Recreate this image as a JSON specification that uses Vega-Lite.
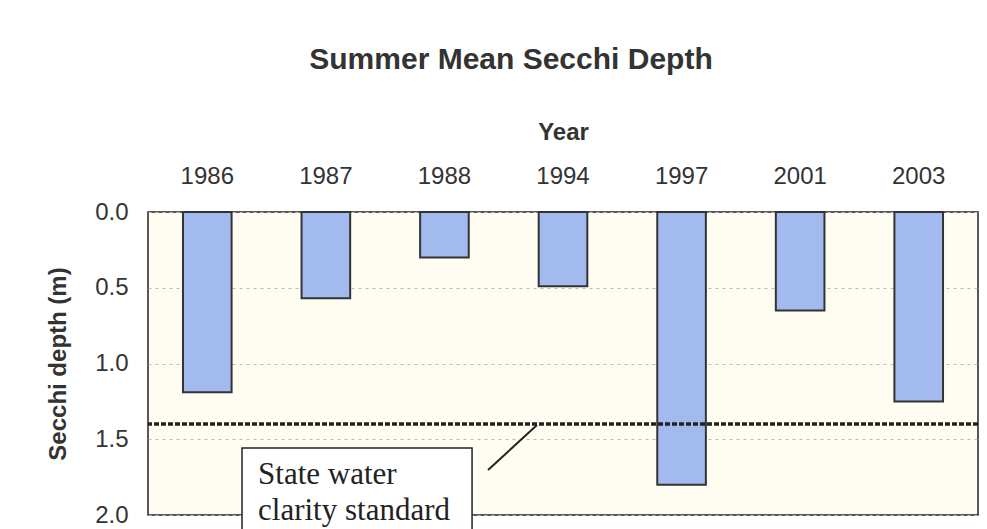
{
  "$schema": "https://vega.github.io/schema/vega-lite/v6.json",
  "width": 830,
  "height": 303,
  "autosize": {"type": "none"},
  "padding": {"left": 148, "top": 212, "right": 9, "bottom": 14},
  "background": "white",
  "title": {
    "text": "Summer Mean Secchi Depth",
    "font": "Liberation Sans",
    "fontSize": 30,
    "fontWeight": "bold",
    "color": "#333333",
    "anchor": "middle",
    "dx": -52,
    "offset": 45
  },
  "config": {
    "view": {"fill": "#fffdf2", "stroke": "#222222", "strokeWidth": 1.5},
    "font": "Liberation Sans"
  },
  "datasets": {
    "bars": [
      {"year": "1986", "depth": 1.19},
      {"year": "1987", "depth": 0.57},
      {"year": "1988", "depth": 0.30},
      {"year": "1994", "depth": 0.49},
      {"year": "1997", "depth": 1.80},
      {"year": "2001", "depth": 0.65},
      {"year": "2003", "depth": 1.25}
    ],
    "standard": [{"depth": 1.4}],
    "box": [{"x": 0.793, "x2": 2.733, "y": 1.558, "y2": 2.12}],
    "labels": [
      {"x": 0.928, "y": 1.797, "label": "State water"},
      {"x": 0.928, "y": 2.03, "label": "clarity standard"}
    ],
    "leader": [
      {"x": 2.868, "y": 1.703, "x2": 3.281, "y2": 1.406}
    ]
  },
  "layer": [
    {
      "data": {"name": "bars"},
      "mark": {"type": "bar", "fill": "#a2baee", "stroke": "#333333", "strokeWidth": 2},
      "encoding": {
        "x": {
          "field": "year",
          "type": "nominal",
          "sort": null,
          "scale": {"paddingInner": 0.59, "paddingOuter": 0.295},
          "axis": {
            "orient": "top",
            "title": "Year",
            "titleFontSize": 24,
            "titleFontWeight": "bold",
            "titleColor": "#333333",
            "titlePadding": 20,
            "labelFontSize": 24,
            "labelColor": "#333333",
            "labelAngle": 0,
            "labelPadding": 24,
            "ticks": false,
            "domain": false
          }
        },
        "y": {
          "field": "depth",
          "type": "quantitative",
          "scale": {"domain": [0, 2], "reverse": true, "nice": false},
          "axis": {
            "title": "Secchi depth (m)",
            "titleFontSize": 24,
            "titleFontWeight": "bold",
            "titleColor": "#333333",
            "titlePadding": 24,
            "values": [0, 0.5, 1, 1.5, 2],
            "format": ".1f",
            "labelFontSize": 24,
            "labelColor": "#333333",
            "labelPadding": 20,
            "ticks": false,
            "domain": false,
            "grid": true,
            "gridColor": "#bbbbbb",
            "gridDash": [3, 4],
            "gridWidth": 1
          }
        }
      }
    },
    {
      "data": {"name": "standard"},
      "mark": {"type": "rule", "stroke": "#222222", "strokeWidth": 3.5, "strokeDash": [5, 2]},
      "encoding": {
        "y": {"field": "depth", "type": "quantitative"}
      }
    },
    {
      "data": {"name": "box"},
      "mark": {"type": "rect", "fill": "white", "stroke": "#222222", "strokeWidth": 1.5, "clip": false},
      "encoding": {
        "x": {"field": "x", "type": "quantitative", "scale": {"domain": [0, 7], "nice": false, "zero": false}, "axis": null},
        "x2": {"field": "x2"},
        "y": {"field": "y", "type": "quantitative"},
        "y2": {"field": "y2"}
      }
    },
    {
      "data": {"name": "labels"},
      "mark": {"type": "text", "font": "Liberation Serif", "fontSize": 31, "align": "left", "baseline": "alphabetic", "color": "#222222"},
      "encoding": {
        "x": {"field": "x", "type": "quantitative", "scale": {"domain": [0, 7], "nice": false, "zero": false}, "axis": null},
        "y": {"field": "y", "type": "quantitative"},
        "text": {"field": "label"}
      }
    },
    {
      "data": {"name": "leader"},
      "mark": {"type": "rule", "stroke": "#222222", "strokeWidth": 2},
      "encoding": {
        "x": {"field": "x", "type": "quantitative", "scale": {"domain": [0, 7], "nice": false, "zero": false}, "axis": null},
        "y": {"field": "y", "type": "quantitative"},
        "x2": {"field": "x2"},
        "y2": {"field": "y2"}
      }
    }
  ],
  "resolve": {"scale": {"x": "independent"}}
}
